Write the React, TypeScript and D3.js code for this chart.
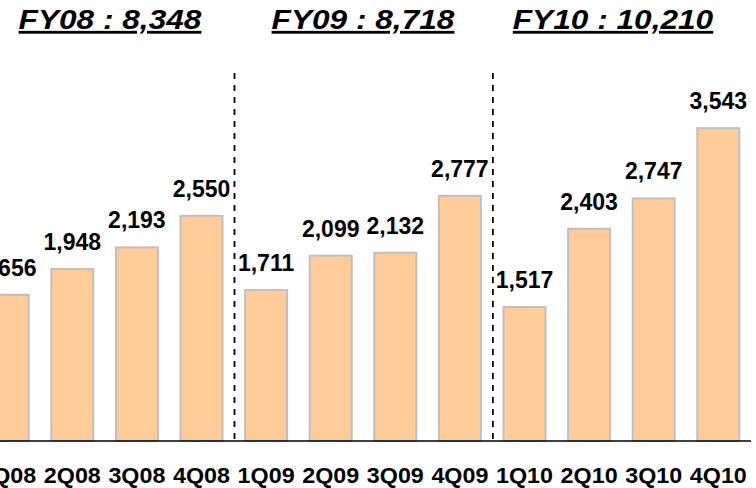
import React from "react";
import * as d3 from "d3";

const categories = ["1Q08", "2Q08", "3Q08", "4Q08", "1Q09", "2Q09", "3Q09", "4Q09", "1Q10", "2Q10", "3Q10", "4Q10"];
const values = [1656, 1948, 2193, 2550, 1711, 2099, 2132, 2777, 1517, 2403, 2747, 3543];
const fyTitles = ["FY08 : 8,348", "FY09 : 8,718", "FY10 : 10,210"];
const dividerAfter = ["4Q08", "4Q09"];

const W = 756;
const H = 488;

export default function App() {
  const x = d3.scaleBand<string>().domain(categories).range([-24.6, 750.6]).paddingInner(0.35).paddingOuter(0.175);
  const y = d3.scaleLinear().domain([0, 4000]).range([441, 87.8]);
  const fmt = d3.format(",");
  const step = x.step();
  const titleX = [110, 363, 613];

  return (
    <svg width={W} height={H} style={{ position: "absolute", left: 0, top: 0, background: "#fff" }} fontFamily="'Liberation Sans', Arial, sans-serif">
      {categories.map((c, i) => (
        <rect
          key={c}
          x={x(c)!}
          y={y(values[i])}
          width={x.bandwidth()}
          height={y(0) - y(values[i])}
          fill="#FFCC99"
          stroke="#BFBFBF"
          strokeWidth={2}
        />
      ))}
      <line x1={0} x2={751} y1={441} y2={441} stroke="#000" strokeWidth={1.5} />
      {dividerAfter.map((c) => {
        const xx = x(c)! + x.bandwidth() + (step - x.bandwidth()) / 2 + 0.7;
        return <line key={c} x1={xx} x2={xx} y1={73} y2={443} stroke="#000" strokeWidth={1.8} strokeDasharray="6 6" />;
      })}
      {categories.map((c, i) => (
        <text
          key={"v" + c}
          x={x(c)! + x.bandwidth() / 2}
          y={y(values[i]) - 19}
          textAnchor="middle"
          fontSize={23}
          fontWeight="bold"
          fill="#000"
        >
          {fmt(values[i])}
        </text>
      ))}
      {categories.map((c) => (
        <text
          key={"c" + c}
          transform={`translate(${x(c)! + x.bandwidth() / 2},483) scale(1.06,1)`}
          textAnchor="middle"
          fontSize={22}
          fontWeight="bold"
          fill="#000"
        >
          {c}
        </text>
      ))}
      {fyTitles.map((t, i) => (
        <text
          key={t}
          transform={`translate(${titleX[i]},29) scale(1.13,1)`}
          textAnchor="middle"
          fontSize={28}
          fontWeight="bold"
          fontStyle="italic"
          textDecoration="underline"
          fill="#000"
        >
          {t}
        </text>
      ))}
    </svg>
  );
}
